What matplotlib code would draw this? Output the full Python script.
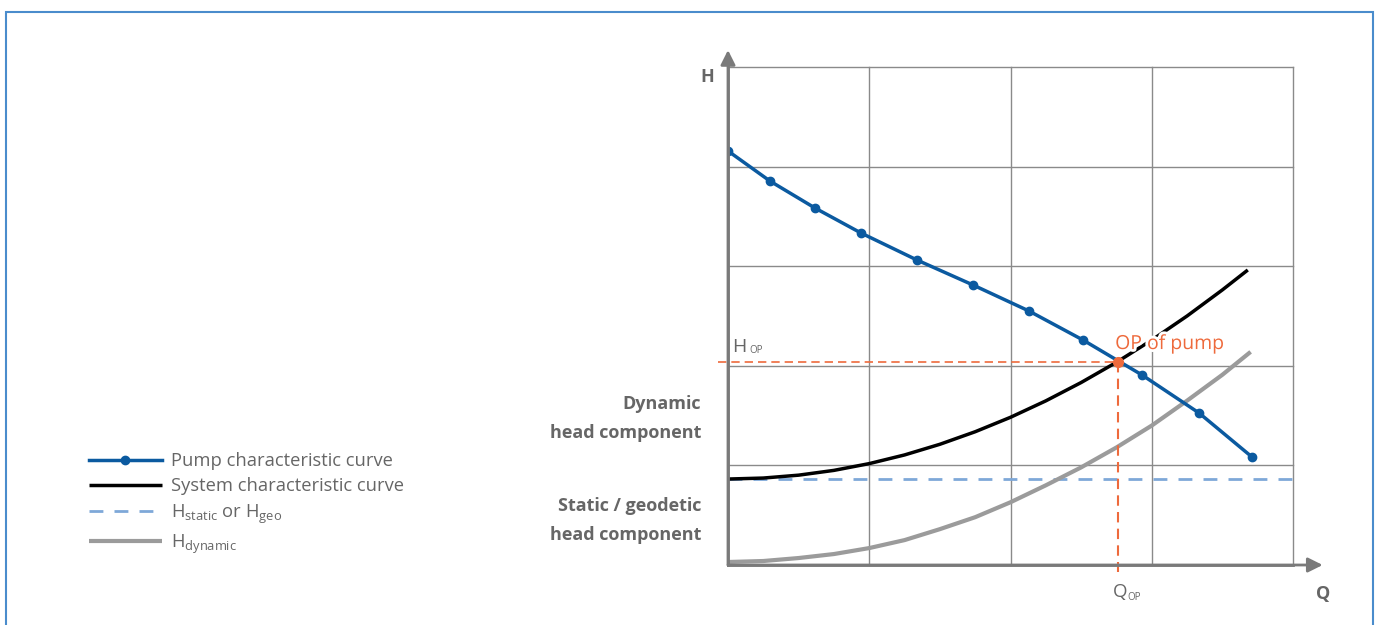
import matplotlib
matplotlib.use("Agg")
import matplotlib.pyplot as plt
import matplotlib.patheffects as pe
from matplotlib.patches import Rectangle

plt.rcParams['font.family'] = ['Open Sans', 'DejaVu Sans']

# pump curve (Q in grid units, H in grid units)
pump_q = [0, 0.297, 0.616, 0.942, 1.338, 1.735, 2.131, 2.513, 2.931, 3.335, 3.710]
pump_h = [4.157, 3.855, 3.584, 3.333, 3.062, 2.811, 2.550, 2.259, 1.908, 1.526, 1.084]

# system curve
sys_q = [0, 0.25, 0.5, 0.75, 1.0, 1.25, 1.5, 1.75, 2.0, 2.25, 2.5, 2.75, 3.0, 3.25, 3.5, 3.68]
sys_h = [0.863, 0.873, 0.902, 0.950, 1.018, 1.105, 1.212, 1.338, 1.483, 1.648, 1.832, 2.035,
         2.258, 2.500, 2.762, 2.962]

# dynamic part
dyn_q = [0, 0.25, 0.5, 0.75, 1.0, 1.25, 1.5, 1.75, 2.0, 2.25, 2.5, 2.75, 3.0, 3.25, 3.5, 3.70]
dyn_h = [0.03, 0.04, 0.07, 0.11, 0.17, 0.25, 0.36, 0.48, 0.63, 0.80, 0.98, 1.18, 1.40,
         1.65, 1.91, 2.14]

h_static = 0.863
op_q, op_h = 2.761, 2.038

legend_labels = ['Pump characteristic curve', 'System characteristic curve',
                 r'H$\mathregular{_{static}}$ or H$\mathregular{_{geo}}$',
                 r'H$\mathregular{_{dynamic}}$']

blue = '#0b5aa0'
orange = '#ee6a3c'
lightblue = '#7ea8d8'
grey = '#9b9b9b'
txt = '#666666'
axcol = '#7a7a7a'

fig = plt.figure(figsize=(13.79, 6.25), dpi=100)
fig.patches.append(Rectangle((6 / 1379, -0.05), 1367 / 1379, 1.05 - 12 / 625,
                             transform=fig.transFigure, fill=False,
                             edgecolor='#4a8ccc', linewidth=1.5))

ax = fig.add_axes([728 / 1379, 60 / 625, 565 / 1379, 498 / 625])
ax.set_xlim(0, 4)
ax.set_ylim(0, 5)
ax.set_xticks([0, 1, 2, 3, 4])
ax.set_yticks([0, 1, 2, 3, 4, 5])
ax.tick_params(length=0, labelbottom=False, labelleft=False)
ax.grid(True, color='#8a8a8a', linewidth=1, clip_on=False)
for s in ['top', 'right']:
    ax.spines[s].set_visible(False)
for s in ['left', 'bottom']:
    ax.spines[s].set_color(axcol)
    ax.spines[s].set_linewidth(2)

# arrows on axes
ax.annotate('', xy=(4.21, 0), xytext=(0, 0), annotation_clip=False,
            arrowprops=dict(arrowstyle='-|>', color=axcol, lw=2, mutation_scale=22,
                            shrinkA=0, shrinkB=0))
ax.annotate('', xy=(0, 5.17), xytext=(0, 0), annotation_clip=False,
            arrowprops=dict(arrowstyle='-|>', color=axcol, lw=2, mutation_scale=22,
                            shrinkA=0, shrinkB=0))

l3, = ax.plot([0, 4], [h_static, h_static], color=lightblue, lw=2, dashes=(5, 4))
l4, = ax.plot(dyn_q, dyn_h, color=grey, lw=3, solid_capstyle='butt')
l2, = ax.plot(sys_q, sys_h, color='black', lw=2.5, solid_capstyle='butt')
l1, = ax.plot(pump_q, pump_h, color=blue, lw=2.5, marker='o', markersize=6)

# operating point
ax.plot([-0.07, op_q], [op_h, op_h], color=orange, lw=1.2, dashes=(5, 3), clip_on=False)
ax.plot([op_q, op_q], [op_h, -0.07], color=orange, lw=1.5, dashes=(5, 3), clip_on=False)
ax.plot([op_q], [op_h], 'o', color=orange, markersize=7, zorder=5)
ax.text(op_q - 0.02, op_h + 0.09, 'OP of pump', color=orange, fontsize=14, ha='left',
        va='bottom', path_effects=[pe.withStroke(linewidth=4, foreground='white')], zorder=6)

ax.text(0.03, op_h + 0.06, 'H', color=txt, fontsize=14, ha='left', va='bottom')
ax.text(0.15, op_h + 0.06, 'OP', color=txt, fontsize=7, ha='left', va='bottom')
ax.text(op_q + 0.015, -0.18, 'Q', color=txt, fontsize=13.5, ha='center', va='top')
ax.text(op_q + 0.115, -0.27, 'OP', color=txt, fontsize=7, ha='center', va='top')

ax.text(-0.1, 4.9, 'H', color=txt, fontsize=13, fontweight='bold', ha='right', va='center')
ax.text(4.21, -0.2, 'Q', color=txt, fontsize=13, fontweight='bold', ha='center', va='top')

ax.text(-0.19, 1.47, 'Dynamic\nhead component', color=txt, fontsize=13, fontweight='bold',
        ha='right', va='center', linespacing=1.8)
ax.text(-0.19, 0.45, 'Static / geodetic\nhead component', color=txt, fontsize=13,
        fontweight='bold', ha='right', va='center', linespacing=1.8)

fig.legend([l1, l2, l3, l4], legend_labels, loc='upper left',
           bbox_to_anchor=(72 / 1379, 1 - 436 / 625), frameon=False, fontsize=13.2,
           handlelength=4.0, labelspacing=0.38, handletextpad=0.5, labelcolor=txt)

fig.savefig('out.png', dpi=100)
